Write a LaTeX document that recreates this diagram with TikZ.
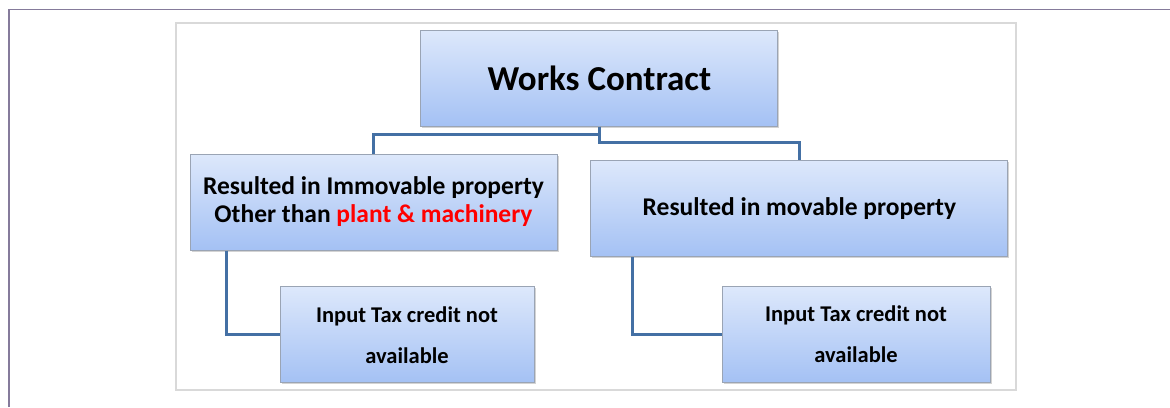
\documentclass[tikz,border=0pt]{standalone}
\usepackage{fontspec}
\setmainfont{Carlito}
\usepackage{xcolor}
\usetikzlibrary{positioning}
\usetikzlibrary{shadows}

\definecolor{boxtop}{HTML}{DDE8FB}
\definecolor{boxbot}{HTML}{A4C1F4}
\definecolor{boxedge}{HTML}{9AA4B4}
\definecolor{linkblue}{HTML}{4470A4}
\definecolor{framegray}{HTML}{D9D9D9}
\definecolor{pageedge}{HTML}{857B9B}

\begin{document}
\begin{tikzpicture}[x=1pt, y=-1pt, font=\bfseries]
    \tikzstyle{box}=[draw=boxedge, line width=1pt, rectangle, top color=boxtop, bottom color=boxbot, minimum height=96pt, inner sep=0pt, align=center, drop shadow={shadow xshift=1.5pt, shadow yshift=-1.5pt, opacity=0.35}]
    \tikzstyle{link}=[draw=linkblue, line width=3pt]
    \tikzstyle{big}=[font=\fontsize{35}{40}\selectfont\bfseries]
    \tikzstyle{mid}=[font=\fontsize{25.5}{28}\selectfont\bfseries]
    \tikzstyle{small}=[font=\fontsize{22.5}{41}\selectfont\bfseries]

    \useasboundingbox (0,0) rectangle (1170,407);

    % page edge and frame
    \draw[pageedge, line width=1.5pt] (9,407) -- (9,9.5) -- (1170,9.5);
    \draw[framegray, line width=2pt] (175.5,22.5) rectangle (1015.5,390);

    \node[box, big, minimum width=357pt] (wc) at (599.4,78) {Works Contract};
    \node[box, mid, minimum width=367pt] (imm) at (373.5,202) {Resulted in Immovable property\\Other than \textcolor{red}{plant \& machinery}};
    \node[box, mid, minimum width=417pt] (mov) at (799.4,208.7) {Resulted in movable property};
    \node[box, small, minimum width=254pt] (itcl) at (407,334.7) {Input Tax credit not\\available};
    \node[box, small, minimum width=268pt] (itcr) at (856,334.5) {Input Tax credit not\\available};

    \draw[link] (wc.south) -- ++(0,8) -| (imm.north);
    \draw[link] (wc.south) -- ++(0,15.5) -| (mov.north);
    \draw[link] ([xshift=37pt]imm.south west) |- (itcl.west);
    \draw[link] ([xshift=42.5pt]mov.south west) |- (itcr.west);

\end{tikzpicture}
\end{document}
